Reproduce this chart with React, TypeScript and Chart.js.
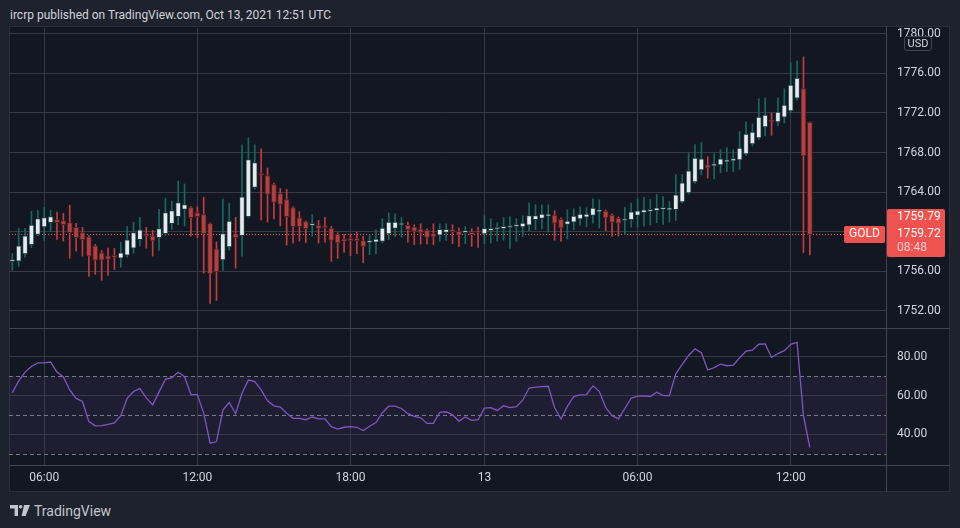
import React, { useEffect, useRef } from "react";
import { Chart, registerables } from "chart.js";

Chart.register(...registerables);

// ---------- data ----------
const OPEN = [
  1756.98, 1757.02, 1757.76, 1758.68, 1759.73, 1760.47, 1760.92, 1761.22, 1761.12, 1760.92,
  1760.44, 1759.90, 1759.49, 1758.58, 1757.86, 1757.56, 1757.45, 1757.32, 1757.63, 1758.34,
  1759.19, 1759.70, 1759.59, 1759.39, 1759.80, 1760.81, 1761.53, 1762.24, 1762.44, 1761.93,
  1761.73, 1760.81, 1758.27, 1757.15, 1758.47, 1759.80, 1759.59, 1761.53, 1764.47, 1765.80,
  1765.66, 1764.75, 1763.86, 1763.25, 1762.44, 1761.42, 1761.02, 1760.64, 1760.64, 1760.45,
  1760.37, 1759.77, 1759.26, 1759.15, 1759.15, 1759.09, 1758.90, 1758.93, 1759.03, 1759.77,
  1760.34, 1760.68, 1760.64, 1760.47, 1760.27, 1760.17, 1759.80, 1759.66, 1759.93, 1760.05,
  1760.03, 1759.90, 1759.93, 1759.95, 1759.77, 1760.10, 1760.25, 1760.30, 1760.42, 1760.52,
  1760.47, 1760.67, 1761.21, 1761.34, 1761.58, 1761.68, 1761.24, 1760.74, 1760.97, 1761.28,
  1761.48, 1761.64, 1762.00, 1762.08, 1761.68, 1761.38, 1761.11, 1761.21, 1761.65, 1761.91,
  1762.06, 1762.12, 1762.26, 1762.20, 1762.22, 1763.02, 1763.93, 1765.04, 1766.25, 1766.75,
  1766.65, 1766.75, 1767.05, 1767.15, 1767.25, 1767.86, 1768.86, 1769.47, 1770.58, 1771.18,
  1771.08, 1771.58, 1772.19, 1773.50, 1774.47, 1771.05,
];
const HIGH = [
  1757.80, 1760.34, 1760.34, 1762.07, 1762.17, 1762.47, 1762.17, 1761.97, 1761.86, 1762.68,
  1760.85, 1760.44, 1759.60, 1758.71, 1758.10, 1758.34, 1758.30, 1758.92, 1760.51, 1760.95,
  1761.46, 1760.44, 1760.14, 1762.27, 1763.39, 1763.08, 1765.12, 1764.81, 1762.54, 1762.54,
  1763.49, 1760.90, 1758.98, 1763.29, 1762.88, 1761.46, 1768.78, 1769.49, 1768.78, 1768.37,
  1766.44, 1764.90, 1764.37, 1764.27, 1762.54, 1762.03, 1761.10, 1761.73, 1761.14, 1761.44,
  1760.54, 1759.90, 1759.73, 1759.73, 1759.93, 1759.53, 1759.70, 1760.20, 1761.31, 1761.91,
  1761.81, 1761.44, 1760.97, 1760.70, 1760.80, 1760.30, 1760.80, 1760.80, 1760.80, 1760.70,
  1760.37, 1760.54, 1760.30, 1760.47, 1761.61, 1761.31, 1760.91, 1761.44, 1761.51, 1761.31,
  1761.61, 1762.92, 1762.72, 1762.72, 1762.72, 1762.11, 1761.40, 1762.21, 1762.31, 1762.52,
  1762.42, 1763.32, 1763.22, 1762.20, 1761.80, 1761.50, 1762.45, 1762.89, 1763.32, 1763.46,
  1763.26, 1763.76, 1763.56, 1763.06, 1765.78, 1765.78, 1767.89, 1768.80, 1769.00, 1767.59,
  1767.89, 1768.29, 1768.50, 1768.29, 1770.11, 1771.11, 1770.88, 1773.43, 1773.53, 1771.99,
  1773.53, 1774.44, 1777.09, 1777.26, 1777.66, 1771.10,
];
const LOW = [
  1756.10, 1756.51, 1757.42, 1758.40, 1759.60, 1759.12, 1760.00, 1759.22, 1759.05, 1757.32,
  1758.03, 1757.53, 1755.49, 1755.69, 1755.08, 1755.59, 1756.17, 1756.41, 1757.42, 1757.83,
  1758.54, 1758.34, 1757.53, 1758.14, 1759.60, 1760.24, 1760.71, 1760.58, 1759.56, 1759.39,
  1755.80, 1752.75, 1753.05, 1756.10, 1758.14, 1756.31, 1757.53, 1761.40, 1764.30, 1761.19,
  1760.98, 1761.29, 1760.58, 1758.64, 1758.85, 1759.05, 1758.88, 1759.56, 1758.86, 1758.93,
  1757.01, 1757.32, 1757.92, 1757.58, 1757.78, 1756.85, 1757.68, 1757.75, 1758.86, 1759.20,
  1759.46, 1759.43, 1758.93, 1758.69, 1758.76, 1758.76, 1758.69, 1759.03, 1759.13, 1758.79,
  1758.52, 1758.79, 1758.52, 1758.42, 1758.79, 1758.86, 1759.03, 1759.13, 1758.32, 1759.03,
  1759.53, 1760.10, 1760.20, 1760.27, 1759.97, 1759.13, 1759.03, 1759.26, 1760.20, 1760.64,
  1760.50, 1760.87, 1760.37, 1760.10, 1759.53, 1759.56, 1759.73, 1760.47, 1760.47, 1760.57,
  1760.67, 1760.90, 1760.74, 1760.97, 1761.14, 1762.90, 1763.80, 1764.90, 1765.74, 1765.41,
  1765.34, 1765.98, 1766.08, 1766.08, 1766.31, 1767.70, 1768.66, 1769.30, 1769.67, 1769.74,
  1770.68, 1770.98, 1772.00, 1773.30, 1757.88, 1757.65,
];
const CLOSE = [
  1757.12, 1758.58, 1759.59, 1760.68, 1761.32, 1761.42, 1761.53, 1760.92, 1760.71, 1759.90,
  1759.39, 1759.19, 1757.53, 1757.12, 1757.12, 1757.22, 1757.40, 1757.86, 1759.19, 1759.90,
  1760.20, 1759.60, 1759.08, 1760.31, 1761.93, 1762.14, 1762.95, 1762.75, 1761.42, 1761.53,
  1759.80, 1755.73, 1755.93, 1759.80, 1761.08, 1759.39, 1763.53, 1767.29, 1766.98, 1765.70,
  1763.76, 1762.95, 1762.75, 1761.53, 1760.51, 1760.51, 1760.31, 1760.70, 1760.34, 1760.40,
  1759.13, 1758.86, 1759.03, 1759.10, 1759.10, 1758.52, 1758.95, 1759.26, 1760.37, 1760.97,
  1760.97, 1760.72, 1760.20, 1760.03, 1759.93, 1759.43, 1759.46, 1760.23, 1760.23, 1760.00,
  1759.66, 1759.95, 1759.70, 1759.92, 1760.34, 1760.34, 1760.28, 1760.54, 1760.45, 1760.55,
  1760.87, 1761.64, 1761.64, 1761.78, 1761.78, 1760.87, 1760.37, 1761.07, 1761.58, 1761.78,
  1761.78, 1762.38, 1762.03, 1761.38, 1760.94, 1760.84, 1761.28, 1762.01, 1762.12, 1762.22,
  1762.10, 1762.42, 1762.30, 1762.23, 1763.73, 1764.94, 1766.15, 1767.45, 1767.35, 1766.45,
  1766.85, 1767.35, 1767.25, 1767.39, 1768.46, 1769.87, 1770.07, 1771.58, 1771.79, 1771.10,
  1772.09, 1772.79, 1774.81, 1775.51, 1767.66, 1759.72,
];
const RSI = [
  61.5, 67.5, 72.1, 75.0, 76.9, 76.9, 77.3, 72.1, 69.6, 62.9,
  58.5, 56.9, 46.5, 44.3, 44.4, 45.1, 45.8, 49.6, 58.5, 62.1,
  63.6, 58.8, 55.2, 61.9, 68.4, 69.2, 72.0, 69.7, 60.5, 60.5,
  50.8, 35.4, 36.2, 52.5, 56.4, 50.6, 61.2, 68.0, 67.2, 62.9,
  57.3, 54.7, 54.0, 50.8, 48.2, 48.2, 47.5, 48.9, 47.9, 47.9,
  43.9, 42.7, 43.6, 43.9, 43.6, 41.9, 44.1, 46.0, 51.1, 54.5,
  54.5, 53.3, 50.6, 49.2, 48.5, 45.6, 45.6, 51.3, 51.6, 50.1,
  46.8, 48.9, 47.2, 47.5, 53.5, 53.7, 52.3, 54.7, 53.8, 54.2,
  57.6, 63.9, 64.3, 64.6, 64.8, 53.7, 47.9, 54.4, 59.5, 60.3,
  60.5, 65.0, 62.2, 53.8, 49.6, 47.9, 53.3, 58.6, 59.7, 59.8,
  59.5, 61.7, 60.0, 60.0, 71.3, 76.1, 80.7, 84.1, 82.1, 73.2,
  74.4, 76.2, 75.4, 75.7, 79.5, 82.9, 83.4, 86.5, 86.7, 79.7,
  81.7, 83.2, 86.5, 87.5, 49.6, 33.2,
];

const TIME_TICK_INDEX = [5, 29, 53, 74, 98, 122];
const TIME_TICK_TEXT = ["06:00", "12:00", "18:00", "13", "06:00", "12:00"];
const PRICE_TICKS = [1752, 1756, 1760, 1764, 1768, 1772, 1776, 1780];
const RSI_TICKS = [40, 60, 80];
const RSI_LEVELS = [30, 50, 70];
const RSI_BAND = [30, 70];
const SYMBOL = "GOLD";
const LAST_PRICE = 1759.72;
const SYMBOL_PRICE = "1759.79";
const COUNTDOWN = "08:48";
const TITLE = "ircrp published on TradingView.com, Oct 13, 2021 12:51 UTC";

// ---------- layout / style ----------
const X_MIN = -0.52;
const X_MAX = 136.94;
const PRICE_MIN = 1750.27;
const PRICE_MAX = 1780.58;
const RSI_MIN = 24.1;
const RSI_MAX = 94.9;

const FONT = "Roboto, 'Liberation Sans', Arial, sans-serif";
const BG_OUT = "#1e222d";
const BG_PANEL = "#131722";
const GRID = "#363a45";
const SEP = "#434651";
const TEXT = "#d1d4dc";
const RED = "#ef5350";
const UP_BODY = "#e6e9ef";
const UP_BORDER = "#1b3d3f";
const UP_WICK = "#146a61";
const DN_BODY = "#b7403f";
const DN_BORDER = "#4f2328";
const DN_WICK = "#c43c3c";
const RSI_COLOR = "#7e57c2";
const BAND_COLOR = "rgba(126, 87, 194, 0.1)";
const LEVEL_COLOR = "#787b86";

function xScale(showLabels: boolean): any {
  return {
    type: "linear",
    min: X_MIN,
    max: X_MAX,
    offset: false,
    afterBuildTicks: (s: any) => {
      s.ticks = TIME_TICK_INDEX.map((v) => ({ value: v }));
    },
    afterFit: (s: any) => {
      s.height = showLabels ? 27 : 0;
      s.paddingLeft = 0;
      s.paddingRight = 0;
    },
    grid: { color: GRID, drawTicks: false, offset: false, lineWidth: 1 },
    border: { display: false },
    ticks: {
      display: showLabels,
      color: TEXT,
      font: { family: FONT, size: 12 },
      padding: 6,
      maxRotation: 0,
      autoSkip: false,
      callback: (v: any) => {
        const k = TIME_TICK_INDEX.indexOf(Number(v));
        return k >= 0 ? TIME_TICK_TEXT[k] : "";
      },
    },
  };
}

function yScale(min: number, max: number, ticks: number[]): any {
  return {
    position: "right",
    min,
    max,
    beginAtZero: false,
    afterBuildTicks: (s: any) => {
      s.ticks = ticks.map((v) => ({ value: v }));
    },
    afterFit: (s: any) => {
      s.width = 64;
      s.paddingTop = 0;
      s.paddingBottom = 0;
    },
    grid: { color: GRID, drawTicks: false },
    border: { display: false },
    ticks: {
      color: TEXT,
      font: { family: FONT, size: 12 },
      padding: 11,
      callback: (v: any) => Number(v).toFixed(2),
    },
  };
}

function box(ctx: CanvasRenderingContext2D, x: number, y: number, w: number, h: number, r: number) {
  ctx.beginPath();
  if ((ctx as any).roundRect) (ctx as any).roundRect(x, y, w, h, r);
  else ctx.rect(x, y, w, h);
  ctx.fill();
}

export default function App() {
  const priceRef = useRef<HTMLCanvasElement>(null);
  const rsiRef = useRef<HTMLCanvasElement>(null);

  useEffect(() => {
    const up = OPEN.map((o, i) => CLOSE[i] >= o);

    const pricePlugin = {
      id: "pricePlugin",
      beforeDatasetsDraw(chart: any) {
        const { ctx, chartArea: a, scales } = chart;
        const y = Math.round(scales.y.getPixelForValue(LAST_PRICE)) + 0.5;
        ctx.save();
        ctx.strokeStyle = RED;
        ctx.lineWidth = 1;
        ctx.setLineDash([1, 2]);
        ctx.beginPath();
        ctx.moveTo(a.left, y);
        ctx.lineTo(a.right - 42, y);
        ctx.stroke();
        ctx.restore();
      },
      afterDraw(chart: any) {
        const { ctx, chartArea: a, scales } = chart;
        const y = scales.y.getPixelForValue(LAST_PRICE);
        ctx.save();
        ctx.fillStyle = RED;
        box(ctx, a.right - 42, y - 8.5, 41, 17, 2);
        box(ctx, a.right + 1, y - 25.5, 58, 48, 2);
        ctx.font = `12px ${FONT}`;
        ctx.textBaseline = "middle";
        ctx.fillStyle = "#ffffff";
        ctx.textAlign = "center";
        ctx.fillText(SYMBOL, a.right - 21.5, y);
        ctx.textAlign = "left";
        ctx.fillText(SYMBOL_PRICE, a.right + 11, y - 17);
        ctx.fillText(LAST_PRICE.toFixed(2), a.right + 11, y);
        ctx.fillStyle = "rgba(255,255,255,0.72)";
        ctx.fillText(COUNTDOWN, a.right + 11, y + 14);
        ctx.restore();
      },
    };

    const price = new Chart(priceRef.current as HTMLCanvasElement, {
      type: "bar",
      data: {
        datasets: [
          {
            data: OPEN.map((o, i) => ({ x: i, y: [o, CLOSE[i]] })),
            backgroundColor: up.map((u) => (u ? UP_BODY : DN_BODY)),
            borderColor: up.map((u) => (u ? UP_BORDER : DN_BORDER)),
            borderWidth: 1,
            borderSkipped: false,
            barThickness: 5,
            minBarLength: 2,
            grouped: false,
            order: 1,
          } as any,
          {
            data: LOW.map((l, i) => ({ x: i, y: [l, HIGH[i]] })),
            backgroundColor: up.map((u) => (u ? UP_WICK : DN_WICK)),
            borderWidth: 0,
            barThickness: 1,
            grouped: false,
            order: 2,
          } as any,
        ],
      },
      options: {
        animation: false,
        responsive: false,
        events: [],
        layout: { padding: { top: 10, left: 0, right: 0, bottom: 0 } },
        plugins: { legend: { display: false }, tooltip: { enabled: false } },
        scales: {
          x: xScale(false),
          y: yScale(PRICE_MIN, PRICE_MAX, PRICE_TICKS),
        },
      } as any,
      plugins: [pricePlugin],
    });

    const rsiPlugin = {
      id: "rsiPlugin",
      beforeDraw(chart: any) {
        const { ctx, chartArea: a, scales } = chart;
        const t = scales.y.getPixelForValue(RSI_BAND[1]);
        const b = scales.y.getPixelForValue(RSI_BAND[0]);
        ctx.save();
        ctx.fillStyle = BAND_COLOR;
        ctx.fillRect(a.left, t, a.right - a.left, b - t);
        ctx.restore();
      },
      beforeDatasetsDraw(chart: any) {
        const { ctx, chartArea: a, scales } = chart;
        ctx.save();
        ctx.strokeStyle = LEVEL_COLOR;
        ctx.lineWidth = 1;
        ctx.setLineDash([4, 3]);
        RSI_LEVELS.forEach((lv) => {
          const y = Math.round(scales.y.getPixelForValue(lv)) + 0.5;
          ctx.beginPath();
          ctx.moveTo(a.left, y);
          ctx.lineTo(a.right, y);
          ctx.stroke();
        });
        ctx.restore();
      },
    };

    const rsi = new Chart(rsiRef.current as HTMLCanvasElement, {
      type: "line",
      data: {
        datasets: [
          {
            data: RSI.map((v, i) => ({ x: i, y: v })),
            borderColor: RSI_COLOR,
            borderWidth: 1.3,
            pointRadius: 0,
            tension: 0,
            fill: false,
          },
        ],
      },
      options: {
        animation: false,
        responsive: false,
        events: [],
        layout: { padding: 0 },
        plugins: { legend: { display: false }, tooltip: { enabled: false } },
        scales: {
          x: xScale(true),
          y: yScale(RSI_MIN, RSI_MAX, RSI_TICKS),
        },
      } as any,
      plugins: [rsiPlugin],
    });

    return () => {
      price.destroy();
      rsi.destroy();
    };
  }, []);

  const abs = (l: number, t: number, w: number, h: number, extra: any = {}) => ({
    position: "absolute" as const,
    left: l,
    top: t,
    width: w,
    height: h,
    ...extra,
  });

  return (
    <div
      style={{
        position: "fixed",
        left: 0,
        top: 0,
        width: 960,
        height: 528,
        background: BG_OUT,
        overflow: "hidden",
        fontFamily: FONT,
      }}
    >
      <div style={abs(10, 6, 600, 18, { color: TEXT, fontSize: 12, lineHeight: "18px", whiteSpace: "nowrap" })}>
        {TITLE}
      </div>
      <div style={abs(9, 26, 941, 466, { background: BG_PANEL, boxSizing: "border-box", border: "1px solid #2a2e39" })} />
      <canvas ref={priceRef} width={941} height={310} style={abs(9, 18, 941, 310)} />
      <canvas ref={rsiRef} width={941} height={164} style={abs(9, 328, 941, 164)} />
      <div style={abs(9, 327.5, 941, 1, { background: SEP })} />
      <div style={abs(9, 465, 941, 1, { background: SEP })} />
      <div style={abs(886, 26, 1, 466, { background: SEP })} />
      <div
        style={abs(904, 36, 28, 15, {
          boxSizing: "border-box",
          border: "1px solid #434651",
          borderRadius: 3,
          background: BG_PANEL,
          color: TEXT,
          fontSize: 11,
          lineHeight: "13px",
          textAlign: "center",
        })}
      >
        USD
      </div>
      <svg style={abs(10, 505, 20, 11)} viewBox="0 0 20 11">
        <path d="M0 0 H8 V11 H4.6 V3.4 H0 Z" fill="#c3c6ce" />
        <circle cx="10.6" cy="1.8" r="1.8" fill="#c3c6ce" />
        <path d="M14 0 H20 L15.6 11 H11.6 Z" fill="#c3c6ce" />
      </svg>
      <div style={abs(34, 502, 120, 18, { color: "#c3c6ce", fontSize: 14, lineHeight: "18px", whiteSpace: "nowrap" })}>
        TradingView
      </div>
    </div>
  );
}
